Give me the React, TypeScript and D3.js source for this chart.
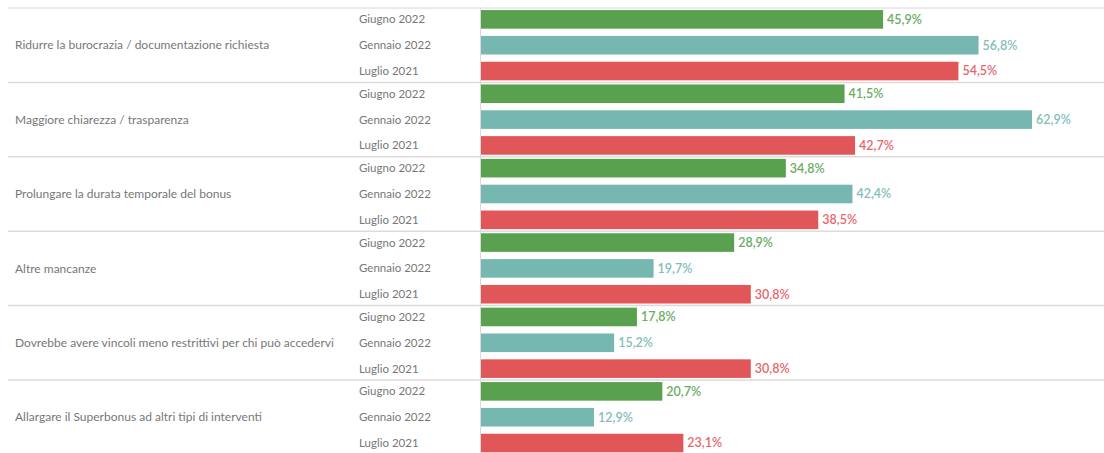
import React from "react";
import * as d3 from "d3";

const categories = [
  "Ridurre la burocrazia / documentazione richiesta",
  "Maggiore chiarezza / trasparenza",
  "Prolungare la durata temporale del bonus",
  "Altre mancanze",
  "Dovrebbe avere vincoli meno restrittivi per chi può accedervi",
  "Allargare il Superbonus ad altri tipi di interventi",
];
const periods = ["Giugno 2022", "Gennaio 2022", "Luglio 2021"];
const giugno2022 = [45.9, 41.5, 34.8, 28.9, 17.8, 20.7];
const gennaio2022 = [56.8, 62.9, 42.4, 19.7, 15.2, 12.9];
const luglio2021 = [54.5, 42.7, 38.5, 30.8, 30.8, 23.1];
const seriesValues = [giugno2022, gennaio2022, luglio2021];
const colors = ["#59a14f", "#76b7b2", "#e15759"];
const textColors = ["#68ad5f", "#82beb9", "#e6676a"];

const W = 1104;
const H = 453;
const FONT = "Lato, 'Open Sans', sans-serif";

export default function App() {
  const y0 = d3.scaleBand<string>().domain(categories).range([8, 8 + 6 * 74.4]);
  const y1 = d3
    .scaleBand<string>()
    .domain(periods)
    .range([0, y0.bandwidth()])
    .paddingInner(0.28)
    .paddingOuter(0.08);
  const x = d3.scaleLinear().domain([0, 70]).range([481, 481 + 70 * 8.76]);
  const fmt = (v: number) => d3.format(".1f")(v).replace(".", ",") + "%";

  return (
    <svg
      width={W}
      height={H}
      style={{ position: "absolute", left: 0, top: 0, display: "block" }}
      fontFamily={FONT}
    >
      <rect width={W} height={H} fill="#fff" />
      <line x1={8} x2={W} y1={8} y2={8} stroke="#e3e3e3" strokeWidth={1.5} />
      {categories.map((c, i) => {
        const gy = y0(c)!;
        return (
          <g key={c}>
            {i > 0 && (
              <line x1={8} x2={W} y1={gy} y2={gy} stroke="#dcdcdc" strokeWidth={1.5} />
            )}
            <text
              x={15}
              y={gy + y0.bandwidth() / 2}
              dy="0.35em"
              fontSize={12}
              fill="#777"
            >
              {c}
            </text>
            {periods.map((p, j) => {
              const v = seriesValues[j][i];
              const by = gy + y1(p)!;
              return (
                <g key={p}>
                  <text
                    x={359}
                    y={by + y1.bandwidth() / 2}
                    dy="0.35em"
                    fontSize={11.5}
                    fill="#777"
                  >
                    {p}
                  </text>
                  <rect
                    x={x(0)}
                    y={by}
                    width={x(v) - x(0)}
                    height={y1.bandwidth()}
                    fill={colors[j]}
                  />
                  <text
                    x={x(v) + 4}
                    y={by + y1.bandwidth() / 2}
                    dy="0.35em"
                    fontSize={12.5}
                    fontWeight={600}
                    fill={textColors[j]}
                  >
                    {fmt(v)}
                  </text>
                </g>
              );
            })}
          </g>
        );
      })}
      <line x1={480.5} x2={480.5} y1={8} y2={H} stroke="#d9d9d9" strokeWidth={1} />
    </svg>
  );
}
